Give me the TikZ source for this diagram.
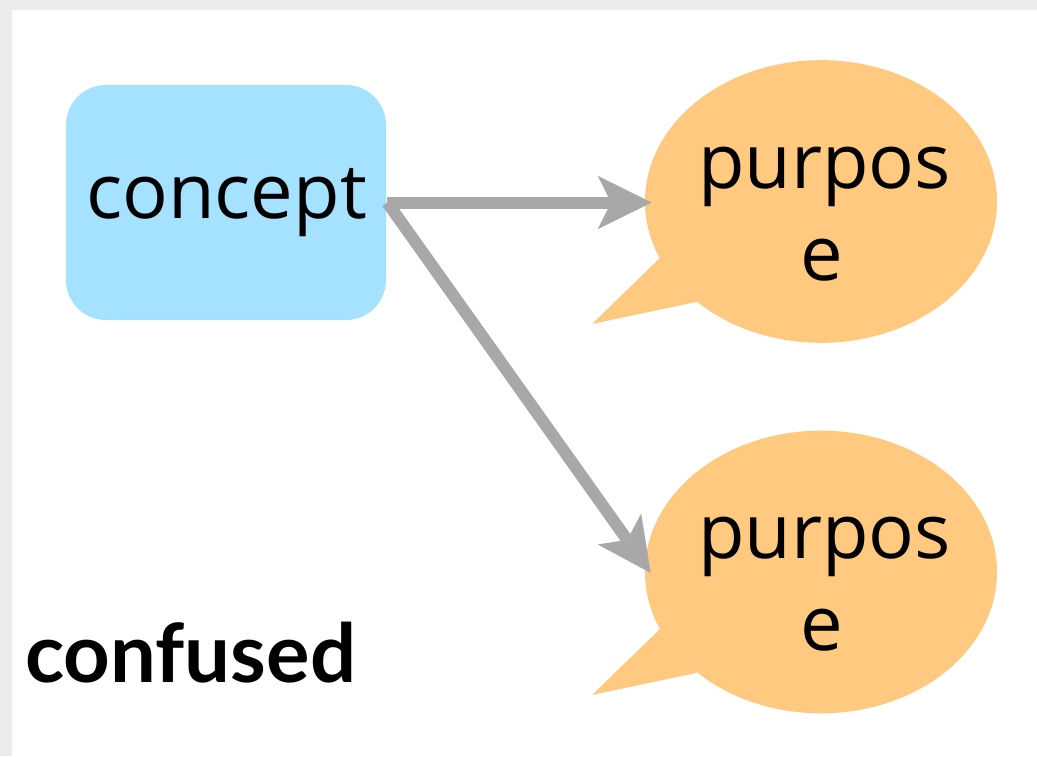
\documentclass[tikz,border=0pt]{standalone}
\usepackage{fontspec}
\setmainfont{Open Sans}
\newfontfamily\captionfont{Lato}
\usetikzlibrary{arrows.meta,shapes.geometric,calc}
\definecolor{frame}{HTML}{EBEBEB}
\definecolor{conceptblue}{HTML}{A5E2FF}
\definecolor{bubbleorange}{HTML}{FFC980}
\definecolor{linkgray}{HTML}{A8A8A8}
\tikzset{
  conceptbox/.style={fill=conceptblue, rounded corners=30pt, minimum width=240pt,
    minimum height=176.25pt, inner sep=0pt},
  bubble/.style={ellipse, fill=bubbleorange, minimum width=264pt, minimum height=212pt, inner sep=0pt},
  bubbletail/.style={fill=bubbleorange},
  bigtext/.style={font=\fontsize{57pt}{69pt}\selectfont, inner sep=0pt, anchor=base},
  link/.style={draw=linkgray, line width=9pt,
    -{Stealth[length=40.5pt, width=40pt, inset=10pt, line width=0pt]}},
}
\begin{document}
\begin{tikzpicture}[x=0.75pt, y=-0.75pt]
  \useasboundingbox (0,0) rectangle (1037,756);
  % page and its light frame
  \fill[frame] (0,0) rectangle (1037,756);
  \fill[white] (12,10) rectangle (1050,770);

  % concept box
  \node[conceptbox] (concept) at (226,202.5) {};
  \node[bigtext] (concepttext) at (226.5,218) {concept};

  % first speech bubble
  \fill[bubbletail] (672,240) -- (660,258) -- (592,324) -- (696,302) -- (712,285) -- cycle;
  \node[bubble] (purposeA) at (821,201.5) {};
  \node[bigtext] (purposeAtop) at (824.5,188) {purpos};
  \node[bigtext] (purposeAbot) at (822,280) {e};

  % second speech bubble
  \fill[bubbletail] (672,611) -- (660,629) -- (592,695) -- (696,673) -- (712,656) -- cycle;
  \node[bubble] (purposeB) at (821,572) {};
  \node[bigtext] (purposeBtop) at (824.5,558.5) {purpos};
  \node[bigtext] (purposeBbot) at (822,650.5) {e};

  % links from the concept to both purposes
  \coordinate (start) at ($(concept.east)+(1,0)$);
  \draw[link] (start) -- ($(purposeA.west)+(7,1)$);
  \draw[link] (start) -- ($(purposeB.west)+(6,1)$);

  % caption
  \node[font=\captionfont\bfseries\fontsize{61pt}{70pt}\selectfont, inner sep=0pt, anchor=base west] (caption) at (25,682) {confused};
\end{tikzpicture}
\end{document}
